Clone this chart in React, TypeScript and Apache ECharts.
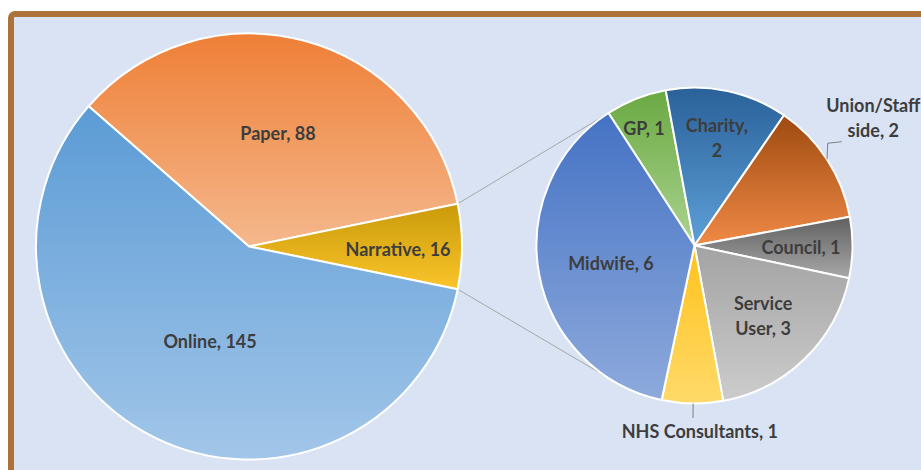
import React, { useEffect, useRef } from "react";
import * as echarts from "echarts";

// ---- data ----
const primaryNames = ["Paper", "Narrative", "Online"];
const primaryValues = [88, 16, 145];
const splitIndex = 1; // "Narrative" is broken out into the secondary pie

const secondaryNames = [
  "GP",
  "Charity",
  "Union/Staff side",
  "Council",
  "Service User",
  "NHS Consultants",
  "Midwife",
];
const secondaryValues = [1, 2, 2, 1, 3, 1, 6];
// where the label wraps: "none" | "comma" (after the comma) | "space" (first space)
const secondaryWrap = ["none", "comma", "space", "none", "space", "none", "none"];

// ---- styles / layout ----
const W = 921;
const H = 470;
const P = { cx: 249, cy: 246.5, r: 213 };
const S = { cx: 694.5, cy: 245.5, r: 158 };
const secondaryStart = 123;
const connectorAngle = 124;

const primaryColors = [
  ["#ee7f36", "#f5b88d"],
  ["#c99a0a", "#fbc52a"],
  ["#5b9bd5", "#a2c6e9"],
];
const secondaryColors = [
  ["#6aa941", "#abd391"],
  ["#2a6199", "#5e9fd8"],
  ["#9e4a10", "#f08a46"],
  ["#606060", "#a8a8a8"],
  ["#a3a3a3", "#cccccc"],
  ["#ffc21a", "#ffda6a"],
  ["#4472c4", "#8eaadc"],
];
// label placement: [radius ratio, angle offset (deg)] relative to slice middle
const primaryLabelPos = [
  [0.55, 0.5],
  [0.70, -1],
  [0.48, 4],
];
const secondaryLabelPos = [
  [0.81, 1.5],
  [0.70, 0.3],
  [1.39, 2.5],
  [0.674, 0],
  [0.622, 0],
  [1.175, 2.4],
  [0.54, 1.3],
];

const TEXT = "#3d3d3d";
const FONT = "Lato, 'Open Sans', sans-serif";

function polar(c: { cx: number; cy: number; r: number }, ratio: number, deg: number) {
  const a = (deg * Math.PI) / 180;
  return [c.cx + ratio * c.r * Math.cos(a), c.cy - ratio * c.r * Math.sin(a)];
}

function midAngles(values: number[], start: number) {
  const total = values.reduce((a, b) => a + b, 0);
  let acc = start;
  return values.map((v) => {
    const span = (v / total) * 360;
    const mid = acc - span / 2;
    acc -= span;
    return mid;
  });
}

function grad(c: string[]) {
  return new echarts.graphic.LinearGradient(0, 0, 0, 1, [
    { offset: 0, color: c[0] },
    { offset: 1, color: c[1] },
  ]);
}

function wrapLabel(name: string, value: number, mode: string) {
  const s = `${name}, ${value}`;
  if (mode === "comma") return s.replace(", ", ",\n");
  if (mode === "space") return s.replace(" ", "\n");
  return s;
}

export default function App() {
  const ref = useRef<HTMLDivElement>(null);

  useEffect(() => {
    if (!ref.current) return;
    const chart = echarts.init(ref.current, undefined, { renderer: "svg" });

    const pTotal = primaryValues.reduce((a, b) => a + b, 0);
    let before = 0;
    for (let i = 0; i < splitIndex; i++) before += primaryValues[i];
    const splitHalf = (primaryValues[splitIndex] / pTotal) * 180;
    const primaryStart = splitHalf + (before / pTotal) * 360;

    const pMid = midAngles(primaryValues, primaryStart);
    const sMid = midAngles(secondaryValues, secondaryStart);

    const labelStyle = {
      show: true,
      position: "outside",
      overflow: "none",
      color: TEXT,
      fontFamily: FONT,
      fontWeight: "bold",
      fontSize: 18,
      lineHeight: 25,
      align: "center",
    };

    // connector lines
    const pTop = polar(P, 1, splitHalf);
    const pBot = polar(P, 1, -splitHalf);
    const sTop = polar(S, 1, connectorAngle);
    const sBot = polar(S, 1, -connectorAngle);

    // leader lines for outside labels
    const unionIdx = 2;
    const u0 = polar(S, 1.0, sMid[unionIdx]);
    const u1 = polar(S, 1.063, 37.5);
    const u2 = polar(S, 1.14, 35.2);
    const n0 = polar(S, 1.0, -90.5);
    const n1 = polar(S, 1.092, -90.5);

    chart.setOption({
      animation: false,
      backgroundColor: "#ffffff",
      graphic: [
        {
          type: "rect",
          z: -10,
          silent: true,
          shape: { x: 11, y: 14, width: 1000, height: 600, r: 4 },
          style: { fill: "#dae3f3", stroke: "#ad7239", lineWidth: 6 },
        },
        {
          type: "line",
          z: 1,
          silent: true,
          shape: { x1: pTop[0], y1: pTop[1], x2: sTop[0], y2: sTop[1] },
          style: { stroke: "#a6a6a6", lineWidth: 1 },
        },
        {
          type: "line",
          z: 1,
          silent: true,
          shape: { x1: pBot[0], y1: pBot[1], x2: sBot[0], y2: sBot[1] },
          style: { stroke: "#a6a6a6", lineWidth: 1 },
        },
        {
          type: "polyline",
          z: 5,
          silent: true,
          shape: { points: [u0, u1, u2] },
          style: { stroke: "#7f7f7f", lineWidth: 1, fill: "none" },
        },
        {
          type: "line",
          z: 5,
          silent: true,
          shape: { x1: n0[0], y1: n0[1], x2: n1[0], y2: n1[1] },
          style: { stroke: "#7f7f7f", lineWidth: 1 },
        },
      ],
      series: [
        {
          type: "pie",
          center: [P.cx, P.cy],
          radius: [0, P.r],
          startAngle: primaryStart,
          clockwise: true,
          avoidLabelOverlap: false,
          z: 2,
          silent: true,
          itemStyle: { borderColor: "#ffffff", borderWidth: 2 },
          label: {
            ...labelStyle,
            formatter: (p: any) => `${p.name}, ${p.value}`,
          },
          labelLine: { show: false },
          labelLayout: (params: any) => {
            const i = params.dataIndex;
            const pos = polar(P, primaryLabelPos[i][0], pMid[i] + primaryLabelPos[i][1]);
            return { x: pos[0], y: pos[1], align: "center", verticalAlign: "middle" };
          },
          data: primaryNames.map((n, i) => ({
            name: n,
            value: primaryValues[i],
            itemStyle: { color: grad(primaryColors[i]) },
          })),
        },
        {
          type: "pie",
          center: [S.cx, S.cy],
          radius: [0, S.r],
          startAngle: secondaryStart,
          clockwise: true,
          avoidLabelOverlap: false,
          z: 2,
          silent: true,
          itemStyle: { borderColor: "#ffffff", borderWidth: 2 },
          label: {
            ...labelStyle,
            formatter: (p: any) => wrapLabel(p.name, p.value, secondaryWrap[p.dataIndex]),
          },
          labelLine: { show: false },
          labelLayout: (params: any) => {
            const i = params.dataIndex;
            const pos = polar(S, secondaryLabelPos[i][0], sMid[i] + secondaryLabelPos[i][1]);
            return { x: pos[0], y: pos[1], align: "center", verticalAlign: "middle" };
          },
          data: secondaryNames.map((n, i) => ({
            name: n,
            value: secondaryValues[i],
            itemStyle: { color: grad(secondaryColors[i]) },
          })),
        },
      ],
    });

    return () => chart.dispose();
  }, []);

  return (
    <div
      ref={ref}
      style={{ position: "fixed", left: 0, top: 0, width: W, height: H }}
    />
  );
}
